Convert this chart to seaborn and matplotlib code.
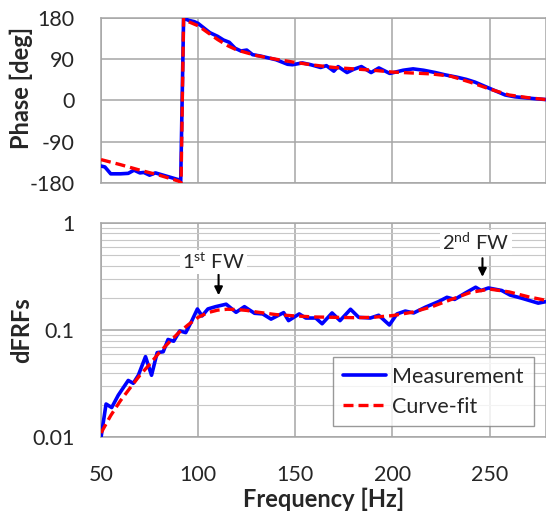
import numpy as np
import pandas as pd
import matplotlib
matplotlib.use("Agg")
import matplotlib.pyplot as plt
from matplotlib.ticker import LogLocator, FixedLocator, NullFormatter
import seaborn as sns

# ---- data ----
phase_meas_f = [50, 52, 55, 60, 64, 67, 70, 72, 75, 78, 82, 86, 90, 91, 92.5, 95, 98, 100, 103, 106,
                110, 113, 116, 119, 122, 125, 128, 132, 136, 140, 143, 146, 148.5, 153.6, 158, 163,
                166, 169.8, 172, 176.6, 180, 184, 189, 193, 198.6, 205.5, 210.6, 216, 222, 227, 233,
                238, 242.5, 248, 253, 258, 263, 268, 273, 279]
phase_meas = [-143, -145, -160, -160, -159, -152, -158, -157, -163, -158, -163, -168, -173, -178, 180,
              175, 172, 168, 158, 148, 140, 132, 127, 114, 108, 110, 100, 97, 93, 89, 84, 79, 78, 82,
              78, 72, 76, 64, 74, 61, 68, 74, 61, 71, 59, 66, 69, 66, 61, 56, 51, 46, 40, 30, 21, 12,
              8, 6, 4, 2]
phase_fit_f = [50, 60, 70, 80, 90, 91.2, 92.5, 95, 100, 105, 110, 115, 120, 130, 140, 150, 160, 170,
               180, 190, 200, 210, 220, 230, 240, 250, 260, 270, 279]
phase_fit = [-129, -140, -152, -163, -176, -180, 180, 172, 163, 148, 133, 120, 110, 98, 90, 83, 77,
             72, 69, 66, 62, 60, 58, 53, 40, 25, 12, 6, 2]

mag_meas_f = [50, 52.6, 55.5, 58.9, 64, 66.6, 69.2, 72.9, 76, 78.9, 82, 84.5, 87.4, 90.5, 93.6, 96.5,
              99.6, 102, 105, 109, 114.4, 119.5, 123.8, 129, 133.2, 137.5, 144, 146.5, 152, 155.4,
              160.5, 163.8, 168.9, 173, 178.4, 182.6, 188.6, 192.9, 198.4, 202.3, 206.6, 210.9,
              216.9, 223.7, 228, 232, 237.4, 242.8, 245.6, 249.4, 256.2, 260.5, 266.5, 275, 279]
mag_meas = [0.0100, 0.0205, 0.019, 0.0248, 0.034, 0.032, 0.038, 0.0567, 0.038, 0.0618, 0.063, 0.082,
            0.079, 0.0986, 0.095, 0.12, 0.158, 0.136, 0.158, 0.166, 0.175, 0.147, 0.166, 0.144, 0.142,
            0.127, 0.146, 0.123, 0.142, 0.13, 0.13, 0.115, 0.145, 0.123, 0.157, 0.132, 0.13, 0.138,
            0.112, 0.142, 0.151, 0.145, 0.164, 0.185, 0.203, 0.194, 0.222, 0.252, 0.235, 0.248,
            0.235, 0.213, 0.199, 0.179, 0.185]
mag_fit_f = [50, 55, 60, 65, 70, 75, 80, 85, 90, 95, 100, 105, 110, 115, 120, 125, 130, 140, 150,
             160, 170, 180, 190, 200, 210, 220, 230, 240, 250, 260, 270, 279]
mag_fit = [0.011, 0.016, 0.022, 0.029, 0.038, 0.048, 0.062, 0.077, 0.095, 0.113, 0.132, 0.146, 0.154,
           0.157, 0.156, 0.153, 0.148, 0.140, 0.136, 0.133, 0.132, 0.131, 0.132, 0.137, 0.147, 0.165,
           0.193, 0.225, 0.242, 0.228, 0.205, 0.19]

x_ticks = [50, 100, 150, 200, 250]
phase_ticks = [-180, -90, 0, 90, 180]
mag_ticks = [0.01, 0.1, 1]
mag_tick_labels = ["0.01", "0.1", "1"]

# ---- style ----
sns.set_style("white")
plt.rcParams["font.family"] = ["Lato", "DejaVu Sans"]
plt.rcParams["axes.unicode_minus"] = False
plt.rcParams["mathtext.fontset"] = "custom"
plt.rcParams["mathtext.rm"] = "Lato"
plt.rcParams["mathtext.it"] = "Lato:italic"
plt.rcParams["mathtext.bf"] = "Lato:bold"

BLUE = "#0000ff"
RED = "#ff0000"
GRID = "#a6a6a6"

fig = plt.figure(figsize=(5.46, 5.14), dpi=100)
ax1 = fig.add_axes([0.185, 0.644, 0.815, 0.321])
ax2 = fig.add_axes([0.185, 0.149, 0.815, 0.417])

df_pm = pd.DataFrame({"f": phase_meas_f, "v": phase_meas})
df_pf = pd.DataFrame({"f": phase_fit_f, "v": phase_fit})
df_mm = pd.DataFrame({"f": mag_meas_f, "v": mag_meas})
df_mf = pd.DataFrame({"f": mag_fit_f, "v": mag_fit})

sns.lineplot(data=df_pm, x="f", y="v", ax=ax1, color=BLUE, lw=2.6, sort=False, zorder=3)
sns.lineplot(data=df_pf, x="f", y="v", ax=ax1, color=RED, lw=2.4, sort=False, zorder=4,
             linestyle=(0, (3, 1.5)))
sns.lineplot(data=df_mm, x="f", y="v", ax=ax2, color=BLUE, lw=2.6, sort=False, zorder=3,
             label="Measurement")
sns.lineplot(data=df_mf, x="f", y="v", ax=ax2, color=RED, lw=2.4, sort=False, zorder=4,
             linestyle=(0, (3, 1.5)), label="Curve-fit")

xmax = 279
for ax in (ax1, ax2):
    ax.set_xlim(50, xmax)
    ax.xaxis.set_major_locator(FixedLocator(x_ticks))
    ax.grid(True, which="major", color=GRID, lw=1.1)
    ax.set_axisbelow(True)
    for s in ax.spines.values():
        s.set_color(GRID)
        s.set_linewidth(1.1)
    ax.tick_params(length=0, labelsize=15.5)
    ax.tick_params(axis="y", pad=19)
    ax.tick_params(axis="x", pad=20)

ax1.set_ylim(-180, 180)
ax1.set_yticks(phase_ticks)
ax1.set_xticklabels([])
ax1.set_xlabel("")
ax1.set_ylabel("Phase [deg]", fontsize=17, fontweight="bold")
ax1.yaxis.set_label_coords(-0.152, 0.576)

ax2.set_yscale("log")
ax2.set_ylim(0.01, 1)
ax2.set_yticks(mag_ticks)
ax2.set_yticklabels(mag_tick_labels)
ax2.yaxis.set_minor_locator(LogLocator(base=10, subs=np.arange(2, 10)))
ax2.yaxis.set_minor_formatter(NullFormatter())
ax2.grid(True, which="minor", axis="y", color="#c8c8c8", lw=0.8)
ax2.tick_params(which="minor", length=0)
ax2.set_xticklabels([str(t) for t in x_ticks])
ax2.set_xlabel("Frequency [Hz]", fontsize=17, fontweight="bold", labelpad=2)
ax2.set_ylabel("dFRFs", fontsize=17, fontweight="bold")
ax2.yaxis.set_label_coords(-0.152, 0.5)

leg = ax2.legend(loc="lower right", bbox_to_anchor=(0.972, 0.052), fontsize=15.5, frameon=True,
                 fancybox=False, handlelength=2.0, borderpad=0.45, labelspacing=0.45,
                 handletextpad=0.3, borderaxespad=0)
leg.get_frame().set_edgecolor("#808080")
leg.get_frame().set_linewidth(1.0)

ax2.annotate("", xy=(110.5, 0.212), xytext=(110.5, 0.33),
             arrowprops=dict(arrowstyle="-|>", color="black", lw=1.5, mutation_scale=12,
                             shrinkA=0, shrinkB=0))
ax2.text(108, 0.43, r"1$^{\mathrm{st}}$ FW", fontsize=14.5, ha="center", va="center",
         bbox=dict(facecolor="white", edgecolor="none", pad=1.5))
ax2.annotate("", xy=(246.3, 0.315), xytext=(246.3, 0.47),
             arrowprops=dict(arrowstyle="-|>", color="black", lw=1.5, mutation_scale=12,
                             shrinkA=0, shrinkB=0))
ax2.text(243, 0.66, r"2$^{\mathrm{nd}}$ FW", fontsize=14.5, ha="center", va="center",
         bbox=dict(facecolor="white", edgecolor="none", pad=1.5))

fig.savefig("out.png", dpi=100)
